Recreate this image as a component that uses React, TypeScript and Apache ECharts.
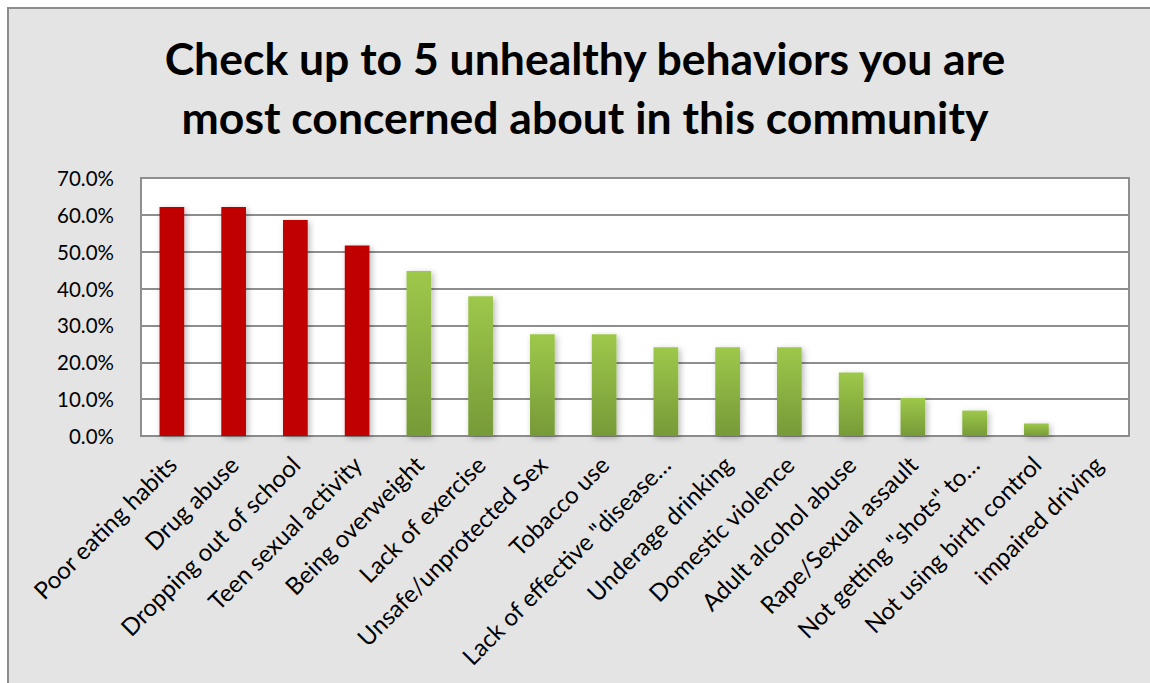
import React, { useEffect, useRef } from "react";
import * as echarts from "echarts";

const categories = [
  "Poor eating habits",
  "Drug abuse",
  "Dropping out of school",
  "Teen sexual activity",
  "Being overweight",
  "Lack of exercise",
  "Unsafe/unprotected Sex",
  "Tobacco use",
  'Lack of effective "disease…',
  "Underage drinking",
  "Domestic violence",
  "Adult alcohol abuse",
  "Rape/Sexual assault",
  'Not getting "shots" to…',
  "Not using birth control",
  "impaired driving",
];

const values = [62.1, 62.1, 58.6, 51.7, 44.8, 37.9, 27.6, 27.6, 24.1, 24.1, 24.1, 17.2, 10.3, 6.9, 3.4, 0];

// first four are highlighted in red
const highlighted = [true, true, true, true, false, false, false, false, false, false, false, false, false, false, false, false];

const yTicks = { min: 0, max: 70, interval: 10 };

const titleLines = [
  "Check up to 5 unhealthy behaviors you are",
  "most concerned about in this community",
];

export default function App() {
  const ref = useRef<HTMLDivElement>(null);
  useEffect(() => {
    if (!ref.current) return;
    const chart = echarts.init(ref.current, null, { renderer: "svg" });
    const green = new echarts.graphic.LinearGradient(0, 0, 0, 1, [
      { offset: 0, color: "#9dc84a" },
      { offset: 1, color: "#769a38" },
    ]);
    const font = "Lato, 'Open Sans', sans-serif";
    chart.setOption({
      animation: false,
      backgroundColor: "#ffffff",
      graphic: [
        {
          type: "rect",
          z: -10,
          silent: true,
          shape: { x: 8, y: 8, width: 1160, height: 700 },
          style: { fill: "#e4e4e4", stroke: "#8c8c8c", lineWidth: 2 },
        },
      ],
      title: {
        text: titleLines.join("\n"),
        left: 580,
        top: 23,
        textAlign: "center",
        textStyle: {
          fontFamily: font,
          fontWeight: "bold",
          fontSize: 44.5,
          lineHeight: 59,
          color: "#000000",
        },
      },
      grid: {
        left: 141,
        top: 178,
        right: 21,
        bottom: 247,
        show: true,
        backgroundColor: "#ffffff",
        borderColor: "#8e8e8e",
        borderWidth: 2,
      },
      xAxis: {
        type: "category",
        data: categories,
        axisLine: { lineStyle: { color: "#8c8c8c", width: 2 } },
        axisTick: { show: false },
        axisLabel: {
          interval: 0,
          rotate: 45,
          margin: 24,
          fontFamily: font,
          fontSize: 24,
          color: "#000000",
        },
      },
      yAxis: {
        type: "value",
        min: yTicks.min,
        max: yTicks.max,
        interval: yTicks.interval,
        axisLine: { show: false },
        axisTick: { show: false },
        splitLine: { lineStyle: { color: "#8e8e8e", width: 2 } },
        axisLabel: {
          margin: 27,
          fontFamily: font,
          fontSize: 20.5,
          color: "#000000",
          formatter: (v: number) => v.toFixed(1) + "%",
        },
      },
      series: [
        {
          type: "bar",
          barWidth: "40%",
          data: values.map((v, i) => ({
            value: v,
            itemStyle: {
              color: highlighted[i] ? "#c00000" : green,
            },
          })),
          itemStyle: {
            shadowColor: "rgba(0,0,0,0.28)",
            shadowBlur: 6,
            shadowOffsetX: 2,
            shadowOffsetY: 2,
          },
        },
      ],
    });
    return () => chart.dispose();
  }, []);
  return (
    <div
      ref={ref}
      style={{ position: "absolute", left: 0, top: 0, width: 1150, height: 683 }}
    />
  );
}
